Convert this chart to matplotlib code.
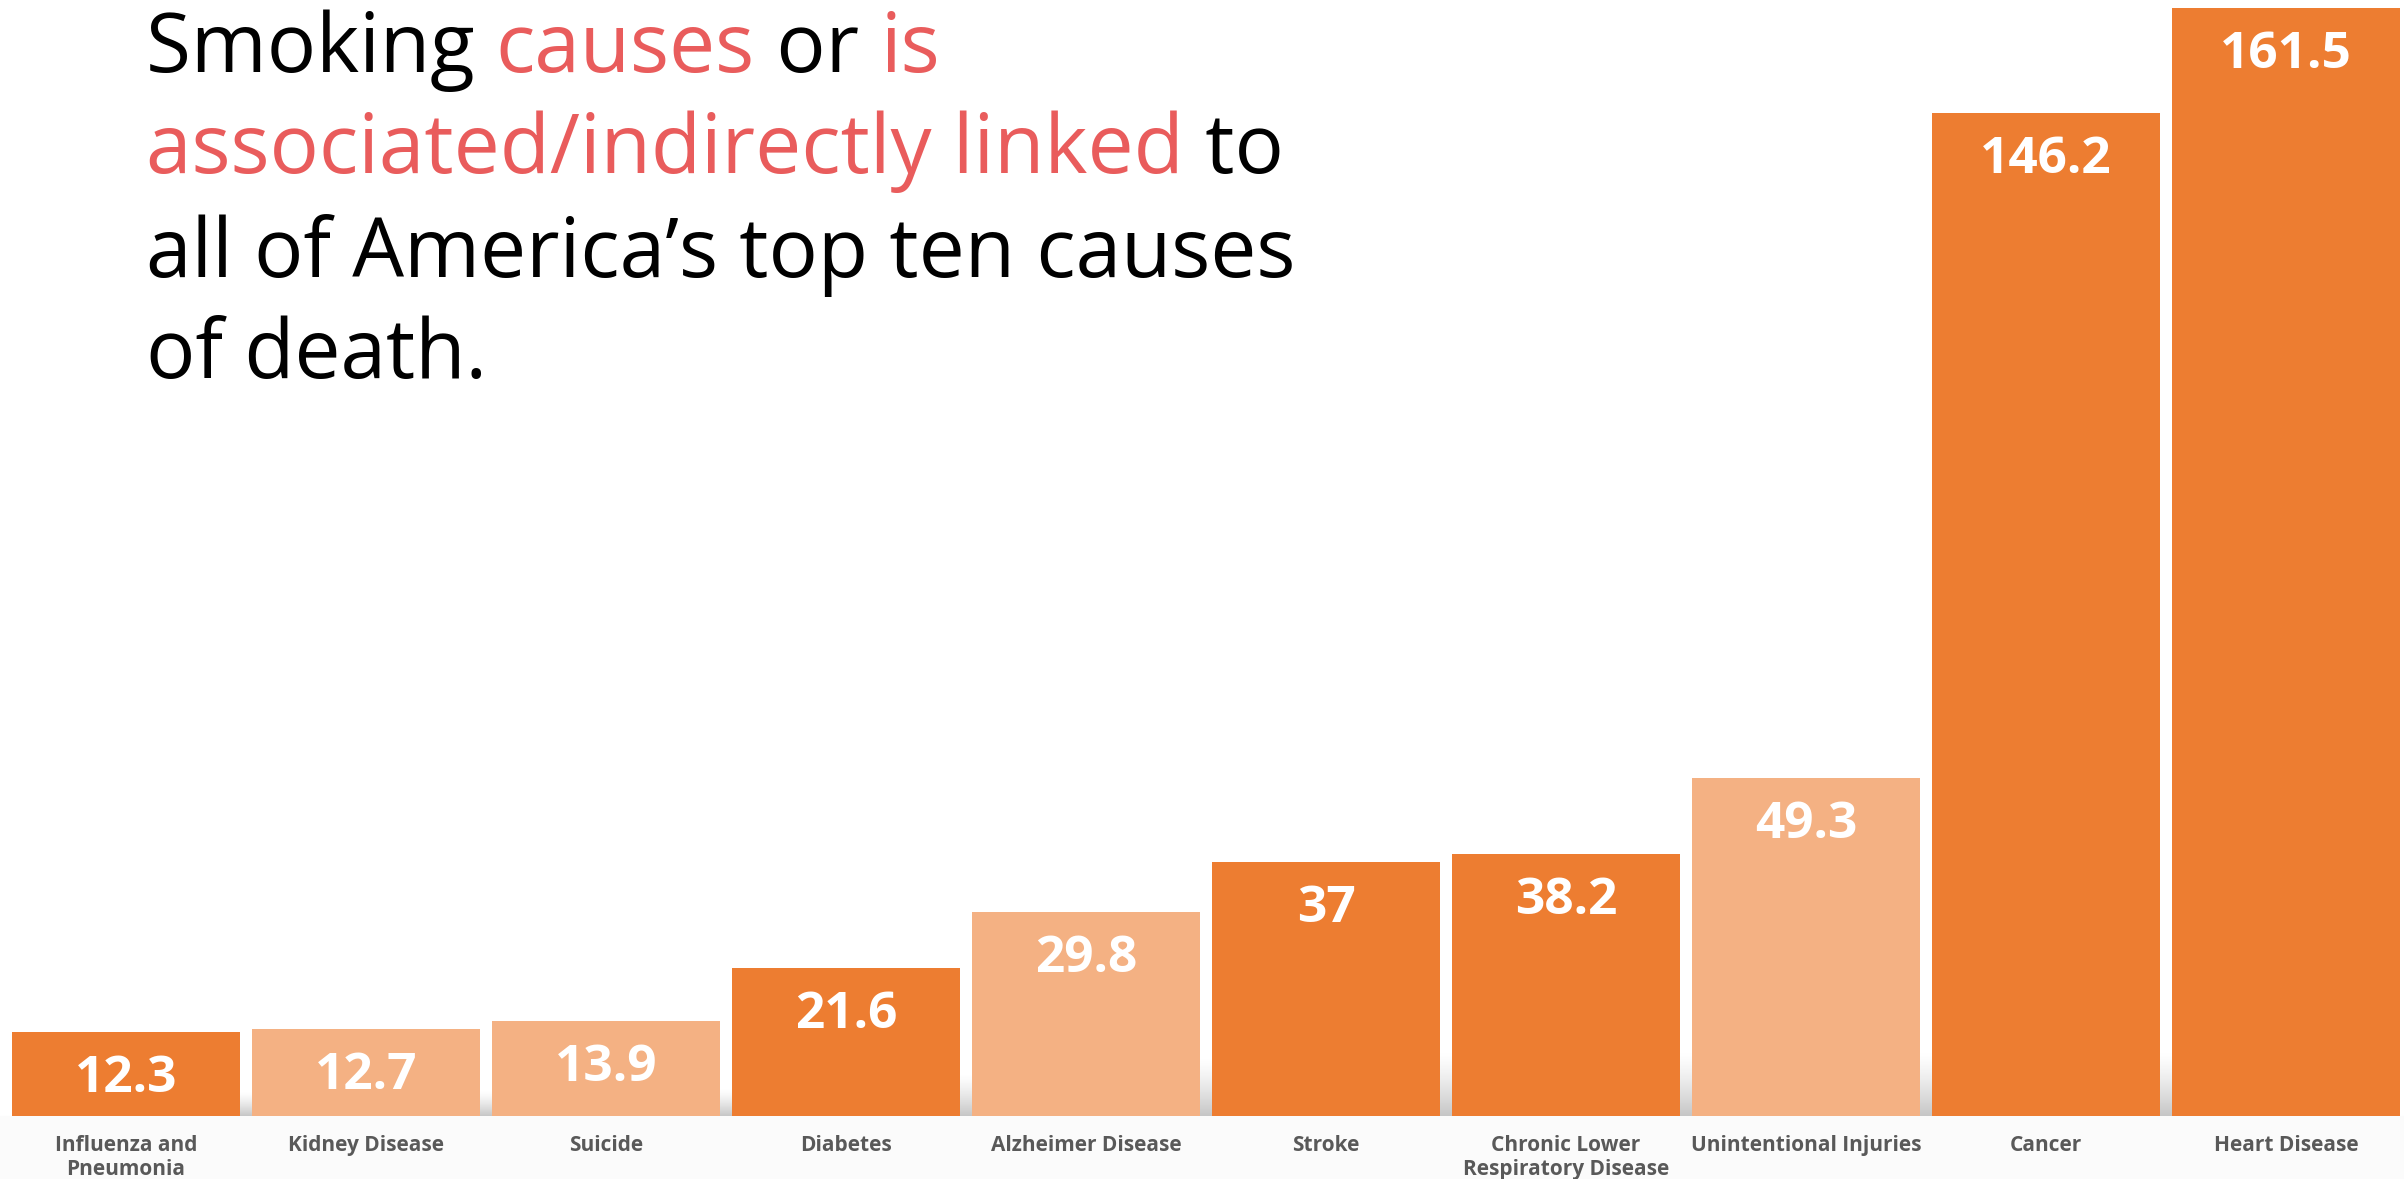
import numpy as np
import matplotlib.pyplot as plt

# data
causes = [["Influenza and", "Pneumonia"], ["Kidney Disease"], ["Suicide"], ["Diabetes"],
          ["Alzheimer Disease"], ["Stroke"], ["Chronic Lower", "Respiratory Disease"],
          ["Unintentional Injuries"], ["Cancer"], ["Heart Disease"]]
rates = [12.3, 12.7, 13.9, 21.6, 29.8, 37, 38.2, 49.3, 146.2, 161.5]
value_text = ["12.3", "12.7", "13.9", "21.6", "29.8", "37", "38.2", "49.3", "146.2", "161.5"]
smoking_linked = [True, False, False, True, False, True, True, False, True, True]

title_lines = [
    [("Smoking ", "k"), ("causes", "r"), (" or ", "k"), ("is", "r")],
    [("associated/indirectly linked", "r"), (" to", "k")],
    [("all of America\u2019s top ten causes", "k")],
    [("of death.", "k")],
]

DARK = "#ED7D31"
LIGHT = "#F4B183"
RED = "#E95C5C"
GREY = "#595959"

W, H = 2404, 1179
fig = plt.figure(figsize=(W / 100, H / 100), dpi=100)
ax = fig.add_axes([0, 0, 1, 1])

# pixel layout -> data limits
pitch = 240.0
x0 = 126.0          # centre of first bar (px)
base = 63.0         # baseline from bottom (px)
ppu = 6.861         # px per unit
ax.set_xlim(-x0 / pitch, (W - x0) / pitch)
ax.set_ylim(-base / ppu, (H - base) / ppu)
ax.axis("off")

x = np.arange(len(rates))
colors = [DARK if s else LIGHT for s in smoking_linked]
bw = 228 / pitch

# faint band under the bars
ax.axhspan(-base / ppu, 0, color="#fbfbfb", zorder=0)

# soft shadows between bars
grad = np.zeros((64, 1, 4))
grad[..., :3] = 0.78
grad[:, 0, 3] = np.linspace(0, 1, 64) ** 1.3
for i in range(len(rates) - 1):
    hmin = min(rates[i], rates[i + 1])
    sh = min(63 / ppu, 0.28 * hmin)
    ax.imshow(grad, extent=[x[i] + bw / 2 - 0.03, x[i + 1] - bw / 2 + 0.03, 0, sh],
              aspect="auto", zorder=1, interpolation="bilinear")

ax.bar(x, rates, width=bw, color=colors, zorder=2)

for xi, v, s in zip(x, rates, value_text):
    ax.text(xi, v - 60 / ppu, s, ha="center", va="baseline", color="white",
            fontsize=37, fontweight="bold", family="Open Sans", zorder=3)

# category names, one text per line (baselines at 1151 and 1175 px from top)
for xi, lines in zip(x, causes):
    for k, ln in enumerate(lines):
        yb = H - 1151 - 24 * k
        ax.text(xi, (yb - base) / ppu, ln, ha="center", va="baseline", color=GREY,
                fontsize=15, fontweight="bold", family="Open Sans")

# title with coloured words
renderer = fig.canvas.get_renderer()
tkw = dict(fontsize=59, family="Open Sans")


def width_px(s):
    t = fig.text(0, 0, s + "|", **tkw)
    w = t.get_window_extent(renderer).width
    t.remove()
    t = fig.text(0, 0, "|", **tkw)
    w -= t.get_window_extent(renderer).width
    t.remove()
    return w


baselines = [72, 173, 277, 378]
left = 146
for line, by in zip(title_lines, baselines):
    prefix = ""
    for seg, col in line:
        xoff = left + (width_px(prefix) if prefix else 0)
        fig.text(xoff / W, 1 - by / H, seg, color=RED if col == "r" else "black",
                 va="baseline", ha="left", **tkw)
        prefix += seg

fig.savefig("out.png", dpi=100)
